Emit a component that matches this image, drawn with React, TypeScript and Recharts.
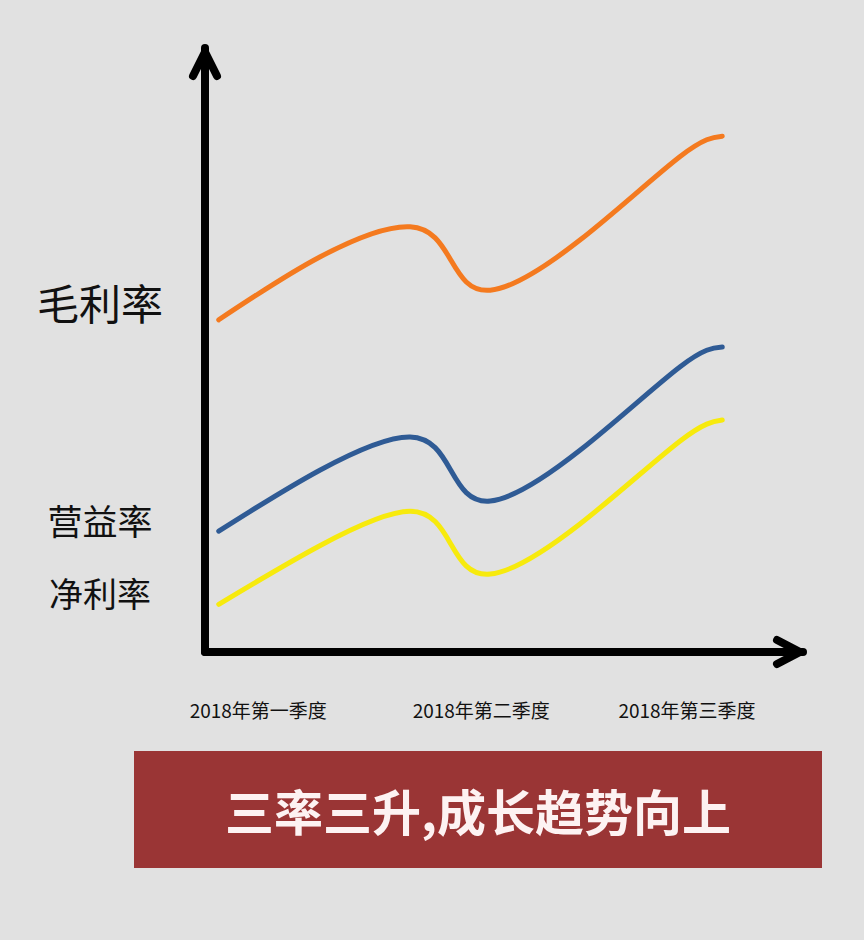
import { LineChart, Line, XAxis, YAxis, ReferenceDot } from 'recharts';

// horizontal position along the time axis (0 = axis origin, 100 = arrow tip)
const positions = [2.3, 19.2, 34.3, 41.1, 47.7, 62.7, 79.4, 86.5];

// rate curves (0 = x axis, 100 = top of y axis)
const grossMargin = [55.0, 65.4, 70.4, 64.9, 59.9, 68.2, 82.0, 85.4];
const operatingMargin = [20.0, 30.1, 35.6, 30.1, 25.0, 33.4, 47.2, 50.5];
const netMargin = [7.9, 17.6, 23.3, 17.9, 12.9, 21.2, 34.9, 38.4];

const quarterTicks = [8.9, 46.2, 80.6];
const quarterLabels = ['2018年第一季度', '2018年第二季度', '2018年第三季度'];

const seriesTicks = [58.1, 22.0, 9.9];
const seriesLabels = ['毛利率', '营益率', '净利率'];
const seriesLabelSizes = [42, 35, 34];

const bannerText = '三率三升,成长趋势向上';

const FONT = '"Noto Sans CJK SC", "Noto Sans", sans-serif';

const chartData = positions.map((x, i) => ({
  x,
  gross: grossMargin[i],
  operating: operatingMargin[i],
  net: netMargin[i],
}));

function SeriesTick(props: any) {
  const { x, y, index } = props;
  return (
    <text
      x={x}
      y={y}
      textAnchor="middle"
      dominantBaseline="central"
      fontFamily={FONT}
      fontSize={seriesLabelSizes[index] ?? 34}
      fill="#111"
    >
      {seriesLabels[index]}
    </text>
  );
}

function UpArrow(props: any) {
  const { cx, cy } = props;
  return (
    <path
      d={`M ${cx - 12} ${cy + 28} L ${cx} ${cy + 4} L ${cx + 12} ${cy + 28}`}
      fill="none"
      stroke="#000"
      strokeWidth={8}
      strokeLinecap="round"
      strokeLinejoin="round"
    />
  );
}

function RightArrow(props: any) {
  const { cx, cy } = props;
  return (
    <path
      d={`M ${cx - 26} ${cy - 12} L ${cx - 3} ${cy} L ${cx - 26} ${cy + 12}`}
      fill="none"
      stroke="#000"
      strokeWidth={8}
      strokeLinecap="round"
      strokeLinejoin="round"
    />
  );
}

export default function App() {
  return (
    <div
      style={{
        position: 'fixed',
        left: 0,
        top: 0,
        width: 864,
        height: 940,
        background: '#e1e1e1',
        fontFamily: FONT,
        overflow: 'hidden',
      }}
    >
      <LineChart
        width={864}
        height={940}
        data={chartData}
        margin={{ top: 48, right: 61, bottom: 208, left: 0 }}
      >
        <XAxis
          dataKey="x"
          type="number"
          domain={[0, 100]}
          ticks={quarterTicks}
          tickFormatter={(v: number) => quarterLabels[quarterTicks.indexOf(v)] ?? ''}
          height={80}
          axisLine={{ stroke: '#000', strokeWidth: 8, strokeLinecap: 'round' }}
          tickLine={false}
          tickSize={0}
          tickMargin={53}
          tick={{ fill: '#111', fontSize: 19, fontFamily: FONT }}
          interval={0}
        />
        <YAxis
          type="number"
          domain={[0, 100]}
          ticks={seriesTicks}
          width={205}
          axisLine={{ stroke: '#000', strokeWidth: 8, strokeLinecap: 'round' }}
          tickLine={false}
          tickSize={0}
          tickMargin={105}
          tick={<SeriesTick />}
          interval={0}
        />
        <Line
          type="natural"
          dataKey="gross"
          stroke="#f47a1f"
          strokeWidth={5}
          strokeLinecap="round"
          dot={false}
          activeDot={false}
          isAnimationActive={false}
        />
        <Line
          type="natural"
          dataKey="operating"
          stroke="#2f5b95"
          strokeWidth={5}
          strokeLinecap="round"
          dot={false}
          activeDot={false}
          isAnimationActive={false}
        />
        <Line
          type="natural"
          dataKey="net"
          stroke="#f7ea0d"
          strokeWidth={5}
          strokeLinecap="round"
          dot={false}
          activeDot={false}
          isAnimationActive={false}
        />
        <ReferenceDot x={0} y={100} ifOverflow="visible" shape={<UpArrow />} />
        <ReferenceDot x={100} y={0} ifOverflow="visible" shape={<RightArrow />} />
      </LineChart>
      <div
        style={{
          position: 'absolute',
          left: 134,
          top: 751,
          width: 688,
          height: 117,
          background: '#9a3535',
          color: '#fdf2f2',
          fontSize: 49,
          fontWeight: 700,
          display: 'flex',
          alignItems: 'center',
          justifyContent: 'center',
        }}
      >
        {bannerText}
      </div>
    </div>
  );
}
